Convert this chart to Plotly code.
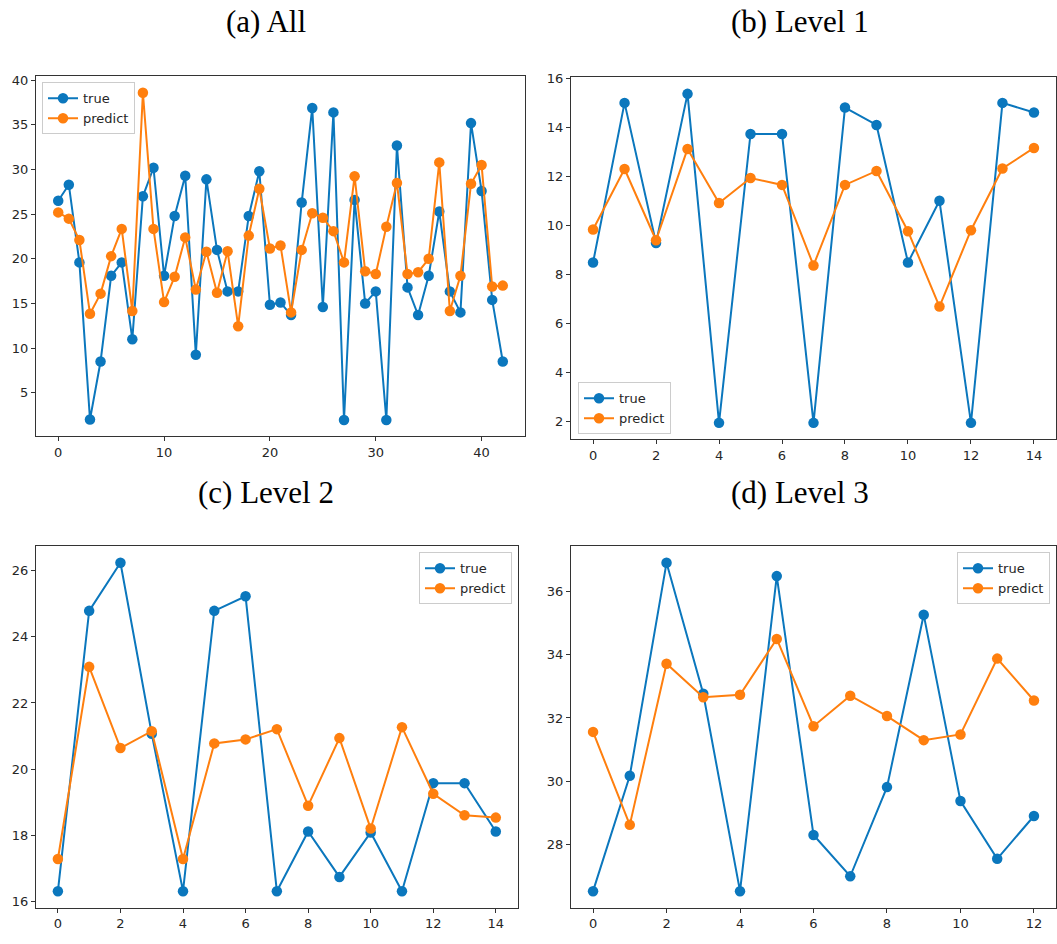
import plotly.graph_objects as go

# ---------------- data ----------------
x_all = list(range(43))
true_all = [26.5, 28.3, 19.6, 2.0, 8.5, 18.1, 19.6, 11.0, 27.0, 30.2,
            18.1, 24.8, 29.3, 9.25, 28.9, 21.0, 16.35, 16.35, 24.8, 29.8,
            14.85, 15.1, 13.7, 26.3, 36.9, 14.6, 36.4, 1.95, 26.6, 15.0,
            16.35, 1.95, 32.7, 16.8, 13.7, 18.1, 25.3, 16.35, 14.0, 35.2,
            27.6, 15.4, 8.5]
pred_all = [25.2, 24.5, 22.1, 13.85, 16.1, 20.3, 23.35, 14.15, 38.6, 23.35,
            15.15, 18.0, 22.4, 16.55, 20.8, 16.2, 20.85, 12.45, 22.6, 27.85,
            21.15, 21.5, 14.0, 21.0, 25.1, 24.6, 23.1, 19.6, 29.25, 18.6,
            18.3, 23.6, 28.5, 18.3, 18.5, 20.0, 30.8, 14.15, 18.1, 28.4,
            30.5, 16.9, 17.0]

x_l1 = list(range(15))
true_l1 = [8.48, 15.0, 9.28, 15.37, 1.93, 13.73, 13.73, 1.93, 14.81, 14.1,
           8.48, 11.0, 1.93, 15.0, 14.61]
pred_l1 = [9.83, 12.3, 9.39, 13.12, 10.91, 11.93, 11.65, 8.36, 11.65, 12.22,
           9.76, 6.68, 9.8, 12.32, 13.16]

x_l2 = list(range(15))
true_l2 = [16.32, 24.78, 26.23, 21.07, 16.32, 24.78, 25.22, 16.32, 18.12, 16.75,
           18.09, 16.32, 19.58, 19.58, 18.12]
pred_l2 = [17.29, 23.09, 20.64, 21.15, 17.29, 20.78, 20.9, 21.21, 18.9, 20.94,
           18.21, 21.27, 19.26, 18.61, 18.54]

x_l3 = list(range(13))
true_l3 = [26.54, 30.18, 36.89, 32.76, 26.54, 36.47, 28.31, 27.01, 29.82, 35.25,
           29.38, 27.56, 28.91]
pred_l3 = [31.56, 28.63, 33.71, 32.65, 32.73, 34.49, 31.74, 32.7, 32.06, 31.3,
           31.48, 33.87, 32.55]

titles = ["(a) All", "(b) Level 1", "(c) Level 2", "(d) Level 3"]
x_ticks = [[0, 10, 20, 30, 40], list(range(0, 15, 2)), list(range(0, 15, 2)), list(range(0, 13, 2))]
y_ticks = [list(range(5, 41, 5)), list(range(2, 17, 2)), list(range(16, 27, 2)), list(range(28, 37, 2))]

panels = [(x_all, true_all, pred_all), (x_l1, true_l1, pred_l1),
          (x_l2, true_l2, pred_l2), (x_l3, true_l3, pred_l3)]

# ---------------- layout geometry ----------------
W, H = 1057, 944
BLUE = "#0b77bd"
ORANGE = "#ff7f0e"

# pixel boxes: (left, right, top, bottom)
boxes = [(36, 525, 71, 434), (571, 1056, 72, 437),
         (36, 517.7, 545, 909.3), (571, 1056, 545, 909.3)]
title_pos = [(266, 16), (800, 16), (266, 491), (800, 491)]
legend_specs = [
    dict(x=42 / W, y=1 - 77 / H, xanchor="left", yanchor="top"),
    dict(x=578 / W, y=1 - 432 / H, xanchor="left", yanchor="bottom"),
    dict(x=512 / W, y=1 - 551 / H, xanchor="right", yanchor="top"),
    dict(x=1050 / W, y=1 - 551 / H, xanchor="right", yanchor="top"),
]


def mpl_range(vals):
    lo, hi = min(vals), max(vals)
    m = (hi - lo) * 0.05
    return [lo - m, hi + m]


fig = go.Figure()
layout = dict(
    width=W, height=H,
    margin=dict(l=0, r=0, t=0, b=0),
    paper_bgcolor="white", plot_bgcolor="white",
    showlegend=True,
    font=dict(family="DejaVu Sans", size=13, color="#262626"),
    annotations=[],
)

for i, (xs, ts, ps) in enumerate(panels):
    n = "" if i == 0 else str(i + 1)
    leg = "legend" if i == 0 else f"legend{i + 1}"
    fig.add_trace(go.Scatter(x=xs, y=ts, mode="lines+markers", name="true",
                             line=dict(color=BLUE, width=2),
                             marker=dict(color=BLUE, size=10.5),
                             xaxis="x" + n, yaxis="y" + n, legend=leg))
    fig.add_trace(go.Scatter(x=xs, y=ps, mode="lines+markers", name="predict",
                             line=dict(color=ORANGE, width=2),
                             marker=dict(color=ORANGE, size=10.5),
                             xaxis="x" + n, yaxis="y" + n, legend=leg))
    l, r, t, b = boxes[i]
    axstyle = dict(showgrid=False, zeroline=False, showline=True, linecolor="#333333",
                   linewidth=1, mirror=True, ticks="outside", ticklen=4,
                   tickcolor="#333333", tickfont=dict(family="DejaVu Sans", size=13, color="#262626"))
    layout["xaxis" + n] = dict(domain=[l / W, r / W], anchor="y" + n,
                               range=mpl_range(xs), tickvals=x_ticks[i], **axstyle)
    layout["yaxis" + n] = dict(domain=[1 - b / H, 1 - t / H], anchor="x" + n,
                               range=mpl_range(ts + ps), tickvals=y_ticks[i], **axstyle)
    layout[leg] = dict(**legend_specs[i], bgcolor="rgba(255,255,255,0.85)",
                       bordercolor="#cccccc", borderwidth=1,
                       font=dict(family="DejaVu Sans", size=13, color="#262626"),
                       tracegroupgap=0, itemwidth=30)
    tx, ty = title_pos[i]
    layout["annotations"].append(dict(text=titles[i], x=tx / W, y=1 - ty / H,
                                      xref="paper", yref="paper", showarrow=False,
                                      xanchor="center", yanchor="middle",
                                      font=dict(family="Liberation Serif", size=31, color="black")))

fig.update_layout(**layout)
fig.write_html("out.html")
